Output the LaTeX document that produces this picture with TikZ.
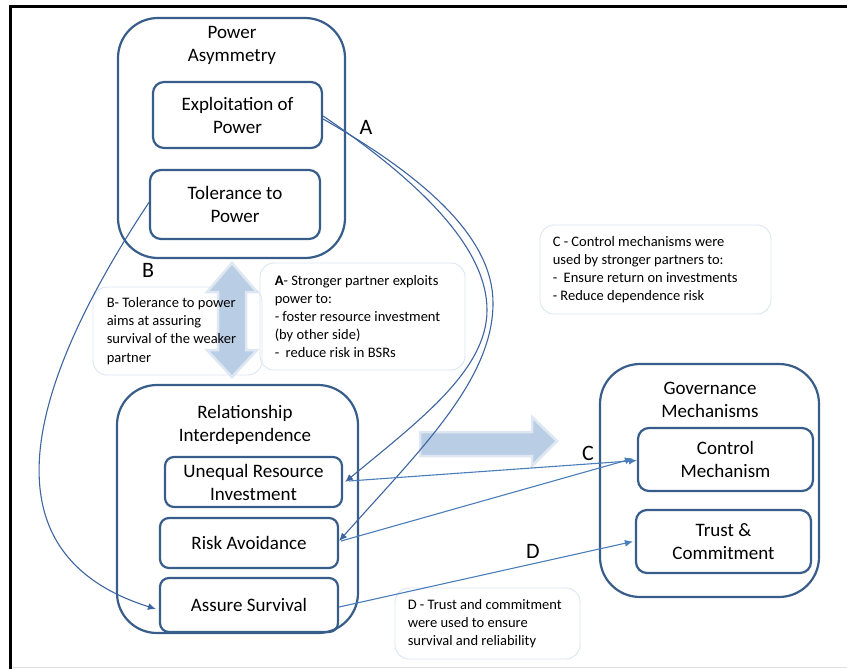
\documentclass[tikz,border=0pt]{standalone}
\usepackage{fontspec}
\setmainfont{Carlito}
\usepackage{tikz}
\usetikzlibrary{positioning}
\usetikzlibrary{arrows.meta}
\definecolor{boxblue}{RGB}{56,93,138}
\definecolor{linkblue}{RGB}{62,100,160}
\definecolor{lightlink}{RGB}{74,126,187}
\definecolor{calloutblue}{RGB}{219,229,241}
\definecolor{arrowfill}{RGB}{185,205,229}
\definecolor{arrowdraw}{RGB}{222,231,242}
\tikzset{outerbox/.style={draw=boxblue,line width=2.2pt,rounded corners=40pt,inner sep=0pt},
         innerbox/.style={draw=boxblue,line width=2.2pt,rounded corners=11pt,align=center,
                          inner sep=0pt,font=\fontsize{19}{23}\selectfont},
         boxtitle/.style={align=center,font=\fontsize{19}{23}\selectfont},
         callout/.style={draw=calloutblue,line width=0.9pt,rounded corners=14pt,inner sep=0pt},
         calltext/.style={align=left,anchor=west,inner sep=0pt,
                          font=\fontsize{14.5}{18.2}\selectfont},
         bigarrow/.style={draw=arrowdraw,fill=arrowfill,line width=2.5pt,line join=miter},
         link/.style={draw=linkblue,line width=1.1pt,-{Latex[length=8pt,width=7pt]}},
         lightlinkstyle/.style={draw=lightlink,line width=1.1pt,-{Latex[length=8pt,width=7pt]}},
         letter/.style={font=\fontsize{22}{26}\selectfont}}

\begin{document}
\begin{tikzpicture}[x=1pt,y=-1pt]
  \useasboundingbox (0,0) rectangle (847,669);
  % frame
  \draw[gray!25,line width=1pt] (9,667) -- (847,667);
  \draw[line width=3pt] (10,669) -- (10,6.5) -- (847,6.5);

  % callout boxes
  \node[callout,minimum width=169pt,minimum height=88pt] (noteB) at (177.5,331) {};
  \node[callout,minimum width=205pt,minimum height=107pt] (noteA) at (362.5,316.5) {};
  \node[callout,minimum width=231pt,minimum height=89pt] (noteC) at (655.5,269.5) {};
  \node[callout,minimum width=185pt,minimum height=71pt] (noteD) at (487.5,623.5) {};

  % big arrows
  \draw[bigarrow] (232,263) -- (257,292) -- (246,292) -- (246,350) -- (257,350) -- (232,377)
    -- (207,350) -- (218,350) -- (218,292) -- (207,292) -- cycle;
  \draw[bigarrow] (420,432) -- (532,432) -- (532,417) -- (557,441) -- (532,466) -- (532,456)
    -- (420,456) -- cycle;

  % callout texts
  \node[calltext] (txtB) at ([xshift=14pt]noteB.west)
    {B- Tolerance to power\\aims at assuring\\survival of the weaker\\partner};
  \node[calltext] (txtA) at ([xshift=15pt]noteA.west)
    {\textbf{A}- Stronger partner exploits\\power to:\\- foster resource investment\\(by other side)\\-\ \ reduce risk in BSRs};
  \node[calltext] (txtC) at ([xshift=13pt]noteC.west)
    {C - Control mechanisms were\\used by stronger partners to:\\-\ \ Ensure return on investments\\- Reduce dependence risk};
  \node[calltext] (txtD) at ([xshift=13pt]noteD.west)
    {D - Trust and commitment\\were used to ensure\\survival and reliability};

  % power asymmetry
  \node[outerbox,minimum width=227pt,minimum height=240pt] (power) at (231.5,138) {};
  \node[boxtitle] (powertitle) at (232,45.5) {Power\\Asymmetry};
  \node[innerbox,minimum width=169pt,minimum height=66pt] (exploit) at (237.5,115)
    {Exploitation of\\Power};
  \node[innerbox,minimum width=170pt,minimum height=69pt] (tolerance) at (235,204.5)
    {Tolerance to\\Power};

  % relationship interdependence
  \node[outerbox,minimum width=241pt,minimum height=248pt] (relation) at (237.5,509) {};
  \node[boxtitle] (relationtitle) at (245,424.5) {Relationship\\Interdependence};
  \node[innerbox,minimum width=177pt,minimum height=50pt,rounded corners=9pt] (unequal) at (253.5,482)
    {Unequal Resource\\Investment};
  \node[innerbox,minimum width=178pt,minimum height=50pt,rounded corners=9pt] (risk) at (249,543)
    {Risk Avoidance};
  \node[innerbox,minimum width=178pt,minimum height=54pt,rounded corners=9pt] (survive) at (249,605)
    {Assure Survival};

  % governance mechanisms
  \node[outerbox,minimum width=219pt,minimum height=233pt] (govern) at (709.5,480.5) {};
  \node[boxtitle] (governtitle) at (710,399.5) {Governance\\Mechanisms};
  \node[innerbox,minimum width=175pt,minimum height=63pt] (control) at (725.5,459.5)
    {Control\\Mechanism};
  \node[innerbox,minimum width=175pt,minimum height=63pt] (trust) at (723.5,541.5)
    {Trust \&\\Commitment};

  % letters
  \node[letter] (labA) at (366,127) {A};
  \node[letter] (labB) at (148,270) {B};
  \node[letter] (labC) at (588,453) {C};
  \node[letter] (labD) at (533,551) {D};

  % connectors
  \coordinate (bendR) at (493,303);
  \coordinate (bendU) at (487,310);
  \draw[link] ([yshift=-4pt]exploit.east) .. controls (430,180) and (493,240) .. (bendR)
    .. controls (493,380) and (420,450) .. ([yshift=2pt]risk.east);
  \draw[link] ([yshift=-1pt]exploit.east) .. controls (425,185) and (487,250) .. (bendU)
    .. controls (487,370) and (420,420) .. ([xshift=2pt]unequal.east);
  \draw[link] ([yshift=2pt]tolerance.west) .. controls (5,420) and (0,560) .. ([xshift=-3pt,yshift=-4pt]survive.west);
  \draw[lightlinkstyle] ([xshift=6pt,yshift=1pt]unequal.east) -- ([yshift=-1pt]control.west);
  \draw[lightlinkstyle] ([xshift=2pt,yshift=2pt]risk.east) -- ([xshift=-4pt,yshift=1pt]control.west);
  \draw[lightlinkstyle] ([yshift=-2pt]survive.east) -- ([xshift=-2pt]trust.west);
\end{tikzpicture}
\end{document}
